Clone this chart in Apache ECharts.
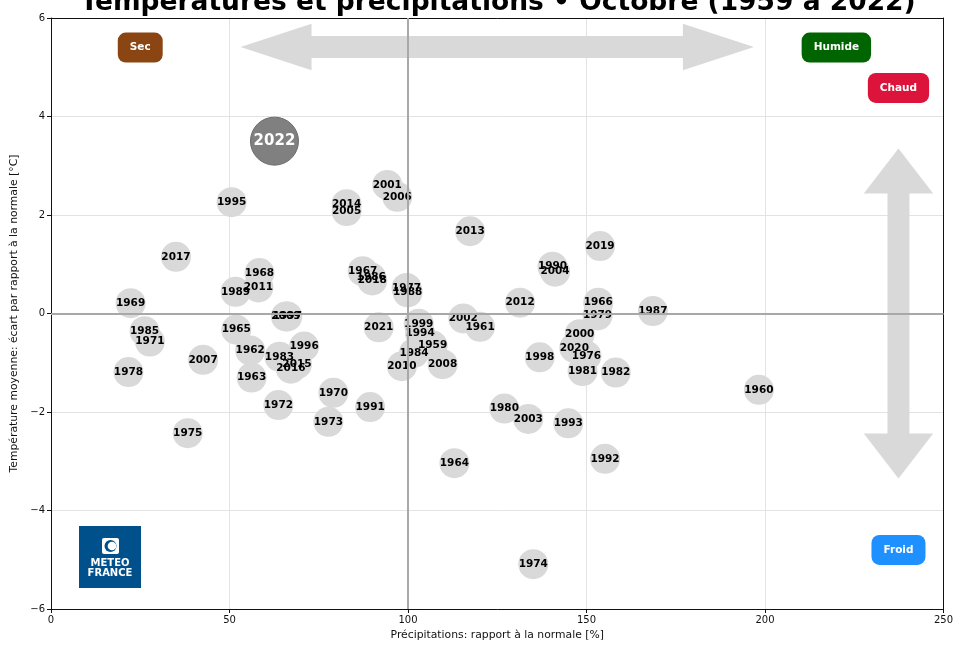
<!DOCTYPE html>
<html>
<head>
<meta charset="utf-8">
<script src="https://cdn.jsdelivr.net/npm/echarts@6/dist/echarts.min.js"></script>
<style>html,body{margin:0;padding:0;background:#fff;}#c{width:956px;height:646px;}</style>
</head>
<body>
<div id="c"></div>
<script>
const years = [1959,1960,1961,1962,1963,1964,1965,1966,1967,1968,1969,1970,1971,1972,1973,1974,1975,1976,1977,1978,1979,1980,1981,1982,1983,1984,1985,1986,1987,1988,1989,1990,1991,1992,1993,1994,1995,1996,1997,1998,1999,2000,2001,2002,2003,2004,2005,2006,2007,2008,2009,2010,2011,2012,2013,2014,2015,2016,2017,2018,2019,2020,2021,2022];
const precip = [106.9,198.3,120.2,55.8,56.2,113.0,51.9,153.3,87.3,58.4,22.3,79.1,27.7,63.7,77.7,135.1,38.3,150.0,99.6,21.7,153.1,127.0,148.9,158.2,64.0,101.7,26.2,89.7,168.6,99.9,51.7,140.5,89.4,155.2,144.9,103.4,50.6,70.9,66.2,136.9,103.0,148.1,94.2,115.5,133.7,141.2,82.8,97.0,42.6,109.7,65.8,98.3,58.1,131.4,117.4,82.8,68.9,67.2,35.0,90.0,153.8,146.6,91.8,62.6];
const temp = [-0.65,-1.55,-0.27,-0.75,-1.30,-3.04,-0.33,0.22,0.86,0.82,0.21,-1.61,-0.57,-1.86,-2.20,-5.09,-2.43,-0.86,0.52,-1.19,-0.04,-1.93,-1.17,-1.20,-0.88,-0.80,-0.36,0.73,0.05,0.43,0.44,0.95,-1.90,-2.95,-2.23,-0.40,2.26,-0.67,-0.06,-0.89,-0.21,-0.42,2.61,-0.10,-2.14,0.85,2.08,2.37,-0.94,-1.03,-0.06,-1.07,0.53,0.22,1.67,2.22,-1.03,-1.12,1.15,0.67,1.37,-0.70,-0.28,3.50];
const highlightYear = 2022;

const xTicks = [0, 50, 100, 150, 200, 250];
const yTicks = [-6, -4, -2, 0, 2, 4, 6];

const annotLabels = ['Sec', 'Humide', 'Chaud', 'Froid'];
const annotX = [25, 220, 237.4, 237.4];
const annotY = [5.4, 5.4, 4.58, -4.8];
const annotColors = ['#8B4513', '#006400', '#DC143C', '#1E90FF'];

// double arrows: [x1, y1, x2, y2]
const arrows = [[53.1, 5.41, 196.9, 5.41], [237.4, 3.35, 237.4, -3.35]];
const arrowShape = [{w: 11, hw: 23.3, hl: 71}, {w: 11, hw: 34.7, hl: 45}];

const FONT = 'DejaVu Sans';
const minus = v => (v < 0 ? '\u2212' + Math.abs(v) : String(v));

const normalPts = [], hiPts = [];
years.forEach((y, i) => {
  const p = [precip[i], temp[i], y];
  if (y === highlightYear) hiPts.push(p); else normalPts.push(p);
});

const chart = echarts.init(document.getElementById('c'), null, {renderer: 'canvas'});

const frameAxis = {
  type: 'value', axisLine: {show: true, onZero: false, lineStyle: {color: '#111', width: 1}},
  axisTick: {show: false}, axisLabel: {show: false}, splitLine: {show: false}
};

const option = {
  animation: false,
  backgroundColor: '#fff',
  grid: {left: 51, right: 11, top: 18, bottom: 37},
  xAxis: [{
    type: 'value', min: xTicks[0], max: xTicks[xTicks.length - 1], interval: 50,
    name: 'Précipitations: rapport à la normale [%]', nameLocation: 'middle', nameGap: 20,
    nameTextStyle: {fontFamily: FONT, fontSize: 10.8, color: '#111'},
    axisLine: {show: true, onZero: false, lineStyle: {color: '#111', width: 1}},
    axisTick: {show: true, length: 4, lineStyle: {color: '#111'}},
    axisLabel: {fontFamily: FONT, fontSize: 10, color: '#111', margin: 6, formatter: minus},
    splitLine: {show: true, lineStyle: {color: '#e3e3e3', width: 1}}
  }, Object.assign({position: 'top', min: xTicks[0], max: xTicks[xTicks.length - 1]}, frameAxis)],
  yAxis: [{
    type: 'value', min: yTicks[0], max: yTicks[yTicks.length - 1], interval: 2,
    name: 'Température moyenne: écart par rapport à la normale [°C]', nameLocation: 'middle', nameGap: 25,
    nameTextStyle: {fontFamily: FONT, fontSize: 10.8, color: '#111'},
    axisLine: {show: true, onZero: false, lineStyle: {color: '#111', width: 1}},
    axisTick: {show: true, length: 4, lineStyle: {color: '#111'}},
    axisLabel: {fontFamily: FONT, fontSize: 10, color: '#111', margin: 6, formatter: minus},
    splitLine: {show: true, lineStyle: {color: '#e3e3e3', width: 1}}
  }, Object.assign({position: 'right', min: yTicks[0], max: yTicks[yTicks.length - 1]}, frameAxis)],
  graphic: [
    {type: 'text', x: 498, y: -10, z: 100,
      style: {text: 'Températures et précipitations • Octobre (1959 à 2022)', font: 'bold 26.5px "DejaVu Sans"', fill: '#000', align: 'center', verticalAlign: 'top'}},
    {type: 'group', left: 79, top: 526, z: 100, children: [
      {type: 'rect', shape: {x: 0, y: 0, width: 62, height: 62}, style: {fill: '#00508C'}},
      {type: 'rect', shape: {x: 23, y: 12, width: 17, height: 16, r: 2}, style: {fill: '#fff'}},
      {type: 'circle', shape: {cx: 31.5, cy: 20, r: 6}, style: {fill: '#00508C'}},
      {type: 'circle', shape: {cx: 33, cy: 20, r: 4.3}, style: {fill: '#fff'}},
      {type: 'text', style: {x: 31, y: 37, text: 'METEO', font: 'bold 10px "DejaVu Sans"', fill: '#fff', align: 'center', verticalAlign: 'middle'}},
      {type: 'text', style: {x: 31, y: 47, text: 'FRANCE', font: 'bold 10px "DejaVu Sans"', fill: '#fff', align: 'center', verticalAlign: 'middle'}}
    ]}
  ],
  series: [
    {
      type: 'scatter', name: 'zero', data: [], z: 1, silent: true,
      markLine: {silent: true, symbol: 'none', label: {show: false}, animation: false,
        lineStyle: {color: '#a8a8a8', width: 2, type: 'solid', opacity: 1},
        data: [{xAxis: 100}, {yAxis: 0}]}
    },
    {
      type: 'custom', name: 'arrows', z: 2, silent: true, clip: false,
      data: arrows, encode: {x: [0, 2], y: [1, 3]},
      renderItem: function (params, api) {
        const s = arrowShape[params.dataIndex];
        const a = api.coord([api.value(0), api.value(1)]);
        const b = api.coord([api.value(2), api.value(3)]);
        const dx = b[0] - a[0], dy = b[1] - a[1];
        const L = Math.sqrt(dx * dx + dy * dy);
        const ux = dx / L, uy = dy / L, nx = -uy, ny = ux;
        const P = (t, n) => [a[0] + ux * t + nx * n, a[1] + uy * t + ny * n];
        const pts = [
          P(0, 0), P(s.hl, s.hw), P(s.hl, s.w), P(L - s.hl, s.w), P(L - s.hl, s.hw),
          P(L, 0), P(L - s.hl, -s.hw), P(L - s.hl, -s.w), P(s.hl, -s.w), P(s.hl, -s.hw)
        ];
        return {type: 'polygon', shape: {points: pts}, style: {fill: '#d9d9d9'}};
      }
    },
    {
      type: 'scatter', name: 'years', z: 3, symbolSize: 30, data: normalPts,
      itemStyle: {color: '#d9d9d9', opacity: 1},
      label: {show: true, position: 'inside', formatter: p => p.value[2], fontFamily: FONT, fontWeight: 'bold', fontSize: 10.5, color: '#000'},
      emphasis: {disabled: true}
    },
    {
      type: 'scatter', name: 'highlight', z: 4, symbolSize: 48, data: hiPts,
      itemStyle: {color: '#808080', borderColor: '#6a6a6a', borderWidth: 1, opacity: 1},
      label: {show: true, position: 'inside', formatter: p => p.value[2], fontFamily: FONT, fontWeight: 'bold', fontSize: 15, color: '#fff'},
      emphasis: {disabled: true}
    },
    {
      type: 'scatter', name: 'annot', z: 5, symbolSize: 1, silent: true,
      itemStyle: {color: 'rgba(0,0,0,0)', opacity: 1},
      data: annotLabels.map((t, i) => ({
        value: [annotX[i], annotY[i]], name: t,
        label: {backgroundColor: annotColors[i]}
      })),
      label: {show: true, position: 'inside', formatter: p => p.name, fontFamily: FONT, fontWeight: 'bold', fontSize: 10.5, color: '#fff', padding: [10, 12, 9, 12], borderRadius: 8},
      emphasis: {disabled: true}
    }
  ]
};
chart.setOption(option);
</script>
</body>
</html>
